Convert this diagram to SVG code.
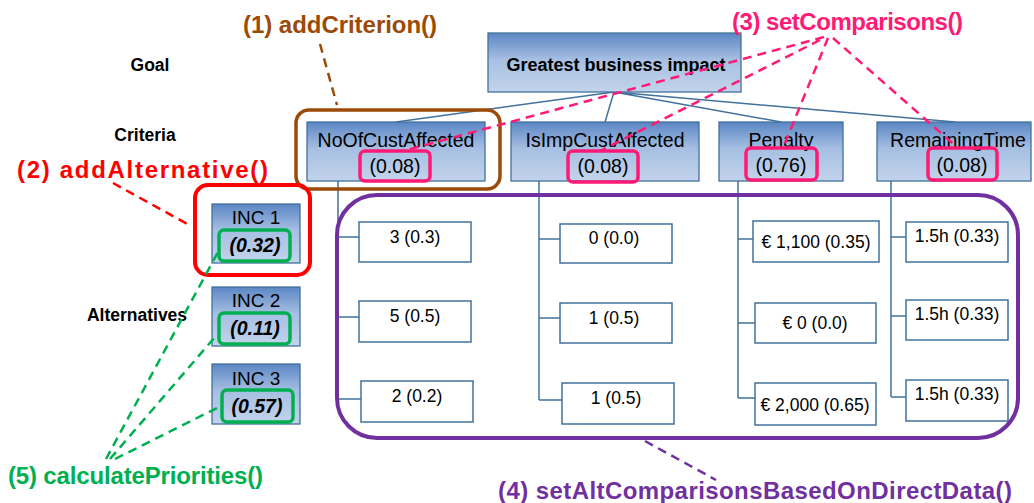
<svg xmlns="http://www.w3.org/2000/svg" width="1034" height="503" viewBox="0 0 1034 503">
  <defs>
    <linearGradient id="boxFill" x1="0" y1="0" x2="0" y2="1">
      <stop offset="0" stop-color="#5b86c4"/>
      <stop offset="0.45" stop-color="#a6bfe2"/>
      <stop offset="1" stop-color="#c3d4ec"/>
    </linearGradient>
    <style>
      text { font-family: "Liberation Sans", Arial, sans-serif; }
      .node { fill: url(#boxFill); stroke: #41719c; stroke-width: 1.3; }
      .alt { fill: #ffffff; stroke: #41719c; stroke-width: 1.5; }
      .tree { fill: none; stroke: #41719c; stroke-width: 1.5; }
      .lvl { font-size: 17.5px; font-weight: bold; fill: #000; text-anchor: middle; }
      .crit { font-size: 19.5px; fill: #000; text-anchor: middle; }
      .inc { font-size: 19px; fill: #000; text-anchor: middle; }
      .incv { font-size: 19.5px; font-weight: bold; font-style: italic; fill: #000; text-anchor: middle; }
      .val { font-size: 17.5px; fill: #000; text-anchor: middle; }
      .call { font-size: 24px; font-weight: bold; }
      .dash { fill: none; stroke-width: 2.5; stroke-dasharray: 9 6; }
    </style>
  </defs>

  <!-- level captions -->
  <g id="levels">
    <text class="lvl" x="150" y="71">Goal</text>
    <text class="lvl" x="145" y="141">Criteria</text>
    <text class="lvl" x="137" y="321">Alternatives</text>
  </g>

  <!-- hierarchy connectors -->
  <g id="connectors" class="tree">
    <path d="M614 92 L396 122 M614 92 L605 122 M614 92 L781 122 M614 92 L955 122"/>
    <path d="M338 181 V399 M338 237 H359 M338 317 H359 M338 399 H361"/>
    <path d="M539 181 V400 M539 239 H560 M539 318 H560 M539 400 H562"/>
    <path d="M738 181 V398 M738 239 H753 M738 323 H755 M738 398 H755"/>
    <path d="M891 181 V397 M891 237 H906 M891 316 H906 M891 397 H906"/>
  </g>

  <!-- goal -->
  <g id="goal">
    <rect class="node" x="488" y="33" width="253" height="59"/>
    <text x="616" y="71" font-size="18" font-weight="bold" text-anchor="middle">Greatest business impact</text>
  </g>

  <!-- criteria -->
  <g id="crit-noofcust">
    <rect class="node" x="307" y="122" width="178" height="59"/>
    <text class="crit" x="396" y="147">NoOfCustAffected</text>
    <text class="crit" x="395" y="173">(0.08)</text>
  </g>
  <g id="crit-isimpcust">
    <rect class="node" x="511" y="122" width="188" height="59"/>
    <text class="crit" x="605" y="147">IsImpCustAffected</text>
    <text class="crit" x="603" y="173">(0.08)</text>
  </g>
  <g id="crit-penalty">
    <rect class="node" x="719" y="122" width="124" height="59"/>
    <text class="crit" x="781" y="147">Penalty</text>
    <text class="crit" x="781" y="172">(0.76)</text>
  </g>
  <g id="crit-remainingtime">
    <rect class="node" x="877" y="122" width="154" height="59"/>
    <text class="crit" x="958" y="147">RemainingTime</text>
    <text class="crit" x="962" y="172">(0.08)</text>
  </g>

  <!-- alternatives -->
  <g id="inc1">
    <rect class="node" x="212" y="204" width="88" height="59"/>
    <text class="inc" x="256" y="224">INC 1</text>
    <text class="incv" x="255" y="252">(0.32)</text>
  </g>
  <g id="inc2">
    <rect class="node" x="212" y="287" width="88" height="59"/>
    <text class="inc" x="256" y="307">INC 2</text>
    <text class="incv" x="255" y="335">(0.11)</text>
  </g>
  <g id="inc3">
    <rect class="node" x="212" y="364" width="88" height="60"/>
    <text class="inc" x="256" y="385">INC 3</text>
    <text class="incv" x="257" y="413">(0.57)</text>
  </g>

  <!-- alternative values per criterion -->
  <g id="vals-noofcust">
    <rect class="alt" x="359" y="222" width="112" height="40"/>
    <text class="val" x="415" y="243">3 (0.3)</text>
    <rect class="alt" x="359" y="301" width="112" height="41"/>
    <text class="val" x="415" y="322">5 (0.5)</text>
    <rect class="alt" x="361" y="381" width="112" height="41"/>
    <text class="val" x="417" y="402">2 (0.2)</text>
  </g>
  <g id="vals-isimpcust">
    <rect class="alt" x="560" y="224" width="112" height="39"/>
    <text class="val" x="614" y="244">0 (0.0)</text>
    <rect class="alt" x="560" y="303" width="112" height="40"/>
    <text class="val" x="614" y="324">1 (0.5)</text>
    <rect class="alt" x="562" y="383" width="112" height="41"/>
    <text class="val" x="616" y="404">1 (0.5)</text>
  </g>
  <g id="vals-penalty">
    <rect class="alt" x="753" y="221" width="126" height="41"/>
    <text class="val" x="816" y="248">€ 1,100 (0.35)</text>
    <rect class="alt" x="755" y="303" width="121" height="40"/>
    <text class="val" x="815" y="329">€ 0 (0.0)</text>
    <rect class="alt" x="755" y="383" width="121" height="42"/>
    <text class="val" x="815" y="411">€ 2,000 (0.65)</text>
  </g>
  <g id="vals-remainingtime">
    <rect class="alt" x="906" y="222" width="102" height="40"/>
    <text class="val" x="957" y="242">1.5h (0.33)</text>
    <rect class="alt" x="906" y="300" width="102" height="40"/>
    <text class="val" x="957" y="320">1.5h (0.33)</text>
    <rect class="alt" x="906" y="380" width="102" height="41"/>
    <text class="val" x="957" y="400">1.5h (0.33)</text>
  </g>

  <!-- (1) addCriterion -->
  <g id="call-addcriterion">
    <rect x="296" y="110" width="204" height="79" rx="13" fill="none" stroke="#9c4a07" stroke-width="3.5"/>
    <path class="dash" stroke="#9c4a07" d="M320 44 L337 105"/>
    <text class="call" x="243" y="33" fill="#9c4a07" textLength="194">(1) addCriterion()</text>
  </g>

  <!-- (2) addAlternative -->
  <g id="call-addalternative">
    <rect x="195" y="185" width="115" height="90" rx="13" fill="none" stroke="#ff0000" stroke-width="4"/>
    <path class="dash" stroke="#ff0000" d="M113 183 L191 226"/>
    <text class="call" x="17" y="178" fill="#ff0000" font-size="25" textLength="251">(2) addAlternative()</text>
  </g>

  <!-- (3) setComparisons -->
  <g id="call-setcomparisons">
    <g fill="none" stroke="#ff1a75" stroke-width="3.5">
      <rect x="360" y="151" width="70" height="30" rx="5"/>
      <rect x="568" y="151" width="70" height="31" rx="5"/>
      <rect x="746" y="148" width="71" height="32" rx="5"/>
      <rect x="928" y="148" width="69" height="32" rx="5"/>
    </g>
    <path class="dash" stroke="#ff1a75" d="M824 37 L403 151 M820 40 L600 151 M828 38 L783 148 M833 38 L958 148"/>
    <text class="call" x="732" y="30" fill="#ff1a75" textLength="231">(3) setComparisons()</text>
  </g>

  <!-- (4) setAltComparisonsBasedOnDirectData -->
  <g id="call-setaltcomparisons">
    <rect x="337" y="195" width="681" height="243" rx="40" fill="none" stroke="#7030a0" stroke-width="4"/>
    <path class="dash" stroke="#7030a0" d="M645 441 L716 480"/>
    <text class="call" x="498" y="499" fill="#7030a0" textLength="514">(4) setAltComparisonsBasedOnDirectData()</text>
  </g>

  <!-- (5) calculatePriorities -->
  <g id="call-calculatepriorities">
    <g fill="none" stroke="#00b050" stroke-width="3.5">
      <rect x="219" y="230" width="71" height="31" rx="5"/>
      <rect x="219" y="313" width="71" height="31" rx="5"/>
      <rect x="222" y="390" width="71" height="32" rx="5"/>
    </g>
    <path class="dash" stroke="#00b050" d="M106 459 L218 252 M110 459 L215 337 M115 459 L221 406"/>
    <text class="call" x="8" y="484" fill="#00b050" textLength="255">(5) calculatePriorities()</text>
  </g>
</svg>
